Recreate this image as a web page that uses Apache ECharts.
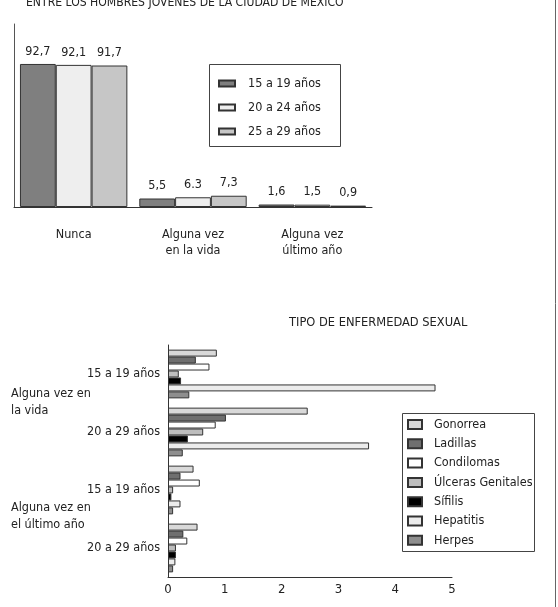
<!DOCTYPE html>
<html>
<head>
<meta charset="utf-8">
<script src="https://cdn.jsdelivr.net/npm/echarts@6/dist/echarts.min.js"></script>
<style>
html,body{margin:0;padding:0;background:#fff;}
#c{width:558px;height:607px;}
</style>
</head>
<body>
<div id="c"></div>
<script>
// ---- Top chart data ----
const topCategories = ['Nunca', 'Alguna vez\nen la vida', 'Alguna vez\núltimo año'];
const topSeriesNames = ['15 a 19 años', '20 a 24 años', '25 a 29 años'];
const top15_19 = [92.7, 5.5, 1.6];
const top20_24 = [92.1, 6.3, 1.5];
const top25_29 = [91.7, 7.3, 0.9];
const topLabels15_19 = ['92,7', '5,5', '1,6'];
const topLabels20_24 = ['92,1', '6.3', '1,5'];
const topLabels25_29 = ['91,7', '7,3', '0,9'];

// ---- Bottom chart data ----
const bottomCategories = ['15 a 19 años', '20 a 29 años', '15 a 19 años', '20 a 29 años'];
const bottomGroupLabels = ['Alguna vez en\nla vida', 'Alguna vez en\nel último año'];
const diseaseNames = ['Gonorrea', 'Ladillas', 'Condilomas', 'Úlceras Genitales', 'Sífilis', 'Hepatitis', 'Herpes'];
const gonorrea   = [0.86, 2.46, 0.45, 0.52];
const ladillas   = [0.49, 1.02, 0.22, 0.27];
const condilomas = [0.73, 0.84, 0.56, 0.34];
const ulceras    = [0.19, 0.62, 0.09, 0.14];
const sifilis    = [0.23, 0.35, 0.06, 0.14];
const hepatitis  = [4.71, 3.54, 0.22, 0.13];
const herpes     = [0.375, 0.26, 0.09, 0.09];
const xTicks = [0, 1, 2, 3, 4, 5];

const titleTop = 'ENTRE LOS HOMBRES JÓVENES DE LA CIUDAD DE MÉXICO';
const titleBottom = 'TIPO DE ENFERMEDAD SEXUAL';

const FONT = '"Liberation Sans Narrow", "DejaVu Sans Condensed", sans-serif';
const FS = 12.5;
const TXT = '#222';
const EDGE = '#333';

const topColors = ['#7f7f7f', '#eeeeee', '#c6c6c6'];
const topData = [top15_19, top20_24, top25_29];
const topLabels = [topLabels15_19, topLabels20_24, topLabels25_29];

const diseaseColors = ['#d9d9d9', '#6f6f6f', '#ffffff', '#bdbdbd', '#000000', '#ececec', '#8e8e8e'];
const diseaseData = [gonorrea, ladillas, condilomas, ulceras, sifilis, hepatitis, herpes];

const chart = echarts.init(document.getElementById('c'), null, {renderer: 'canvas'});

const series = [];
topSeriesNames.forEach((name, i) => {
  series.push({
    name: name,
    type: 'bar',
    xAxisIndex: 0, yAxisIndex: 0,
    barGap: '0%',
    barCategoryGap: '10%',
    itemStyle: {color: topColors[i], borderColor: EDGE, borderWidth: 1},
    label: {
      show: true, position: 'top', distance: 6,
      fontFamily: FONT, fontSize: FS, color: TXT,
      formatter: (p) => topLabels[i][p.dataIndex]
    },
    data: topData[i],
    animation: false
  });
});
diseaseNames.forEach((name, i) => {
  series.push({
    name: name,
    type: 'bar',
    xAxisIndex: 1, yAxisIndex: 1,
    barGap: '0%',
    barCategoryGap: '16%',
    itemStyle: {color: diseaseColors[i], borderColor: EDGE, borderWidth: 1},
    data: diseaseData[i],
    animation: false
  });
});

const option = {
  animation: false,
  backgroundColor: '#ffffff',
  textStyle: {fontFamily: FONT},
  grid: [
    {left: 14, top: 24, width: 358, height: 183},
    {left: 168, top: 345, width: 284, height: 232}
  ],
  xAxis: [
    {
      gridIndex: 0, type: 'category', data: topCategories,
      axisLine: {show: true, lineStyle: {color: '#333', width: 1}},
      axisTick: {show: false},
      axisLabel: {fontFamily: FONT, fontSize: FS, color: TXT, margin: 20, lineHeight: 16}
    },
    {
      gridIndex: 1, type: 'value', min: 0, max: 5, interval: 1,
      axisLine: {show: true, lineStyle: {color: '#333', width: 1}},
      axisTick: {show: false},
      splitLine: {show: false},
      axisLabel: {fontFamily: FONT, fontSize: 13, color: TXT, margin: 6,
        formatter: (v) => String(xTicks[Math.round(v)])}
    }
  ],
  yAxis: [
    {
      gridIndex: 0, type: 'value', min: 0, max: 118.6,
      axisLine: {show: true, lineStyle: {color: '#555', width: 1}},
      axisTick: {show: false}, axisLabel: {show: false}, splitLine: {show: false}
    },
    {
      gridIndex: 1, type: 'category', data: bottomCategories, inverse: true,
      axisLine: {show: true, lineStyle: {color: '#333', width: 1}},
      axisTick: {show: false},
      axisLabel: {fontFamily: FONT, fontSize: FS, color: TXT, margin: 8}
    }
  ],
  legend: [
    {
      data: topSeriesNames, orient: 'vertical', left: 218, top: 76,
      itemWidth: 16, itemHeight: 6, itemGap: 9, padding: 0,
      icon: 'rect', selectedMode: false,
      textStyle: {fontFamily: FONT, fontSize: FS, color: TXT, lineHeight: 15, padding: [0, 0, 0, 8]}
    },
    {
      data: diseaseNames, orient: 'vertical', left: 407, top: 417,
      itemWidth: 14, itemHeight: 9, itemGap: 4.3, padding: 0,
      icon: 'rect', selectedMode: false,
      textStyle: {fontFamily: FONT, fontSize: FS, color: TXT, lineHeight: 15, padding: [0, 0, 0, 7]}
    }
  ],
  graphic: [
    {type: 'text', x: 26, y: -4, scaleX: 0.93, style: {text: titleTop, font: '13px ' + FONT, fill: TXT}},
    {type: 'text', x: 289, y: 316, scaleX: 0.98, style: {text: titleBottom, font: '13px ' + FONT, fill: TXT}},
    {type: 'text', left: 11, top: 385, style: {text: bottomGroupLabels[0], font: FS + 'px ' + FONT, fill: TXT, lineHeight: 17}},
    {type: 'text', left: 11, top: 499, style: {text: bottomGroupLabels[1], font: FS + 'px ' + FONT, fill: TXT, lineHeight: 17}},
    {type: 'rect', shape: {x: 209.5, y: 64.5, width: 131, height: 82}, style: {fill: 'none', stroke: '#444', lineWidth: 1}, z: 10},
    {type: 'rect', shape: {x: 402.5, y: 413.5, width: 132, height: 138}, style: {fill: 'none', stroke: '#444', lineWidth: 1}, z: 10},
    {type: 'line', shape: {x1: 555.5, y1: 0, x2: 555.5, y2: 607}, style: {stroke: '#666', lineWidth: 1}}
  ],
  series: series
};
chart.setOption(option);
</script>
</body>
</html>
